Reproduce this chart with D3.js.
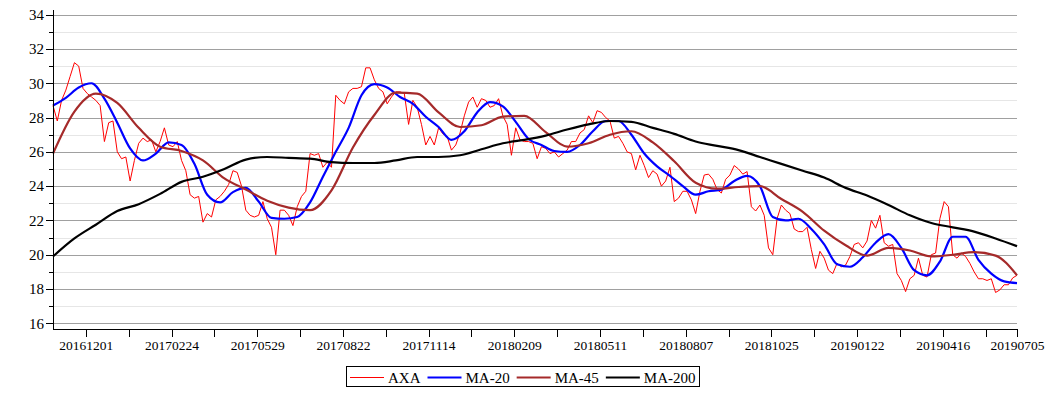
<!DOCTYPE html>
<html>
<head>
<meta charset="utf-8">
<script src="https://cdn.jsdelivr.net/npm/d3@7"></script>
<style>
    body { margin: 0; background: #fff; }
    text { font-family: "Liberation Serif", "Times New Roman", serif; fill: #000; }
</style>
</head>
<body>
<div id="graph"></div>
<script>
window.onload = start;

// AXA close, one value every 3 trading days
var axaStep = 3;
var axa = [28.7, 27.8, 29.0, 29.6, 30.4, 31.2, 31.0, 29.7, 29.4, 29.2,
    29.0, 28.7, 26.6, 27.7, 27.8, 26.0, 25.6, 25.7, 24.3, 25.5,
    26.5, 26.8, 26.6, 26.7, 26.0, 26.6, 27.4, 26.4, 26.3, 26.6,
    25.5, 24.9, 23.5, 23.3, 23.4, 21.9, 22.4, 22.2, 23.2, 23.4,
    23.7, 24.1, 24.9, 24.8, 24.0, 22.6, 22.3, 22.2, 22.3, 23.1,
    22.1, 21.6, 20.0, 22.6, 22.6, 22.3, 21.7, 22.8, 23.4, 23.7,
    25.9, 25.8, 25.9, 25.1, 25.4, 25.1, 29.3, 29.0, 28.8, 29.5,
    29.7, 29.7, 29.8, 30.9, 30.9, 30.2, 29.7, 29.5, 28.8, 29.2,
    29.5, 29.5, 29.4, 27.6, 29.0, 28.6, 27.6, 26.4, 26.9, 26.4,
    27.4, 27.05, 26.9, 26.1, 26.4, 27.1, 28.1, 28.9, 29.2, 28.6,
    29.1, 29.0, 28.6, 28.7, 29.1, 28.1, 27.6, 25.8, 27.4, 26.7,
    26.6, 26.6, 26.5, 25.6, 26.3, 26.2, 25.9, 26.0, 25.7, 25.9,
    26.1, 26.6, 26.6, 27.1, 27.3, 28.1, 27.7, 28.4, 28.3, 28.0,
    27.8, 26.8, 26.9, 26.5, 26.0, 25.9, 24.95, 25.8, 25.2, 24.5,
    24.9, 24.7, 24.0, 24.3, 25.1, 23.1, 23.3, 23.7, 23.7, 23.2,
    22.4, 23.7, 24.65, 24.7, 24.4, 23.8, 23.6, 24.4, 24.65, 25.2,
    25.0, 24.7, 24.85, 22.8, 22.55, 22.9, 22.3, 20.4, 20.0, 22.1,
    22.9, 22.6, 22.4, 21.5, 21.35, 21.35, 21.6, 20.3, 19.2, 20.2,
    19.8, 19.1, 18.9, 19.5, 19.3, 19.4, 19.9, 20.6, 20.7, 20.4,
    20.8, 22.0, 21.55, 22.3, 20.7, 20.5, 20.6, 18.9, 18.5, 17.85,
    18.6, 18.8, 19.8, 18.8, 18.7, 20.0, 20.1, 22.1, 23.1, 22.8,
    20.0, 19.8, 20.1, 19.9, 19.5, 19.0, 18.6, 18.6, 18.5, 18.6,
    17.8, 17.95, 18.25, 18.25, 18.65, 18.8];

// MA-20, one value every 9 trading days
var ma20Step = 9;
var ma20 = [28.7, 29.15, 29.75, 30.0, 29.1, 27.7, 26.2, 25.5, 25.9, 26.55,
    26.4, 25.3, 23.5, 23.05, 23.65, 23.9, 23.1, 22.15, 22.1, 22.2,
    23.05, 24.55, 26.0, 27.4, 29.3, 29.95, 29.75, 29.2, 28.8, 28.05,
    27.45, 26.7, 27.2, 28.3, 28.9, 28.65, 27.75, 26.75, 26.4, 26.05,
    26.0, 26.4, 27.2, 27.8, 27.8, 27.0, 25.9, 25.15, 24.6, 24.0,
    23.5, 23.7, 23.8, 24.3, 24.6, 24.0, 22.2, 22.0, 22.1, 21.5,
    20.6, 19.45, 19.3, 19.85, 20.7, 21.2, 20.4, 19.1, 18.8, 19.6,
    21.05, 21.05, 19.7, 18.9, 18.45, 18.35];

// MA-45 and MA-200, one value every 15 trading days
var maStep = 15;
var ma45 = [25.9, 28.35, 29.4, 28.85, 27.4, 26.3, 26.05, 25.5, 24.45, 23.8,
    23.15, 22.75, 22.6, 23.75, 26.25, 28.15, 29.45, 29.4, 28.3,
    27.45, 27.55, 28.05, 28.1, 27.15, 26.3, 26.5, 27.0, 27.2,
    26.55, 25.45, 24.2, 23.85, 23.95, 24.0, 23.25, 22.5, 21.4,
    20.55, 19.95, 20.4, 20.25, 19.9, 20.0, 20.15, 19.95, 18.8];
var ma200 = [19.9, 20.95, 21.75, 22.55, 22.95, 23.55, 24.25, 24.55, 25.0, 25.55,
    25.7, 25.65, 25.6, 25.4, 25.35, 25.35, 25.5, 25.7, 25.7, 25.8,
    26.15, 26.5, 26.7, 26.95, 27.3, 27.6, 27.8, 27.75, 27.4, 27.05,
    26.6, 26.35, 26.1, 25.7, 25.3, 24.9, 24.5, 23.9, 23.45, 22.9,
    22.3, 21.85, 21.6, 21.35, 20.95, 20.5];

var dayCount = 676;
var tickDays = [23, 83, 143, 203, 263, 323, 383, 443, 503, 563, 623, 675];
var tickLabels = ["20161201", "20170224", "20170529", "20170822", "20171114", "20180209",
    "20180511", "20180807", "20181025", "20190122", "20190416", "20190705"];
var minorDays = [53, 113, 173, 233, 293, 353, 413, 473, 533, 593, 653];
var yMajor = [16, 18, 20, 22, 24, 26, 28, 30, 32, 34];
var yMinor = [17, 19, 21, 23, 25, 27, 29, 31, 33];
var seriesNames = ["AXA", "MA-20", "MA-45", "MA-200"];
var seriesColors = ["#ff0000", "#0000ff", "#a52a2a", "#000000"];

var svg;
var xScale;
var yScale;
var margin;
var width;
var height;

function start() {
    width = 1048;
    height = 400;
    margin = {top: 9, right: 31, bottom: 71, left: 53};

    svg = d3.select("#graph")
        .append("svg")
        .attr("width", width)
        .attr("height", height);

    xScale = d3.scaleLinear().domain([0, dayCount - 1]).range([margin.left, width - margin.right]);
    yScale = d3.scaleLinear().domain([15.67, 34.33]).range([height - margin.bottom, margin.top]);

    // grid
    svg.append("g").selectAll("line")
        .data(yMinor)
        .enter().append("line")
        .attr("x1", margin.left).attr("x2", width - margin.right)
        .attr("y1", function(d) { return Math.round(yScale(d)) + 0.5; })
        .attr("y2", function(d) { return Math.round(yScale(d)) + 0.5; })
        .attr("stroke", "#e6e6e6");
    svg.append("g").selectAll("line")
        .data(yMajor)
        .enter().append("line")
        .attr("x1", margin.left).attr("x2", width - margin.right)
        .attr("y1", function(d) { return Math.round(yScale(d)) + 0.5; })
        .attr("y2", function(d) { return Math.round(yScale(d)) + 0.5; })
        .attr("stroke", "#a0a0a0");

    drawLine(axa, axaStep, seriesColors[0], 1, d3.curveLinear);
    drawLine(ma20, ma20Step, seriesColors[1], 2.2, d3.curveMonotoneX);
    drawLine(ma45, maStep, seriesColors[2], 2.2, d3.curveMonotoneX);
    drawLine(ma200, maStep, seriesColors[3], 2.2, d3.curveMonotoneX);

    // axes
    var yAxis = d3.axisLeft(yScale).tickValues(yMajor).tickSize(7).tickPadding(2).tickSizeOuter(0);
    var yMinorAxis = d3.axisLeft(yScale).tickValues(yMinor).tickSize(4).tickFormat("").tickSizeOuter(0);
    var yContainer = svg.append("g")
        .attr("transform", "translate(" + margin.left + ",0)")
        .call(yAxis);
    svg.append("g")
        .attr("transform", "translate(" + margin.left + ",0)")
        .call(yMinorAxis);
    yContainer.selectAll("text").style("font-size", "15px");

    var xAxis = d3.axisBottom(xScale).tickValues(tickDays).tickSize(8).tickPadding(3).tickSizeOuter(0)
        .tickFormat(function(d, i) { return tickLabels[i]; });
    var xMinorAxis = d3.axisBottom(xScale).tickValues(minorDays).tickSize(8).tickFormat("").tickSizeOuter(0);
    var xContainer = svg.append("g")
        .attr("transform", "translate(0," + (height - margin.bottom) + ")")
        .call(xAxis);
    svg.append("g")
        .attr("transform", "translate(0," + (height - margin.bottom) + ")")
        .call(xMinorAxis);
    xContainer.selectAll("text").style("font-size", "13.5px");

    svg.selectAll(".domain, .tick line").attr("stroke", "#000").attr("shape-rendering", "crispEdges");
    svg.selectAll(".tick text").attr("fill", "#000")
        .style("font-family", '"Liberation Serif", "Times New Roman", serif');

    drawLegend();
}

function drawLine(values, step, color, strokeWidth, curve) {
    var line = d3.line()
        .x(function(d, i) { return xScale(i * step); })
        .y(function(d) { return yScale(d); })
        .curve(curve);
    svg.append("path")
        .datum(values)
        .attr("fill", "none")
        .attr("stroke", color)
        .attr("stroke-width", strokeWidth)
        .attr("d", line);
}

function drawLegend() {
    var legend = svg.append("g");
    var box = legend.append("rect")
        .attr("fill", "#fff")
        .attr("stroke", "#000")
        .attr("shape-rendering", "crispEdges");
    var x = 350;
    var lineY = 377.5;
    for (var i = 0; i < seriesNames.length; i++) {
        legend.append("line")
            .attr("x1", x).attr("x2", x + 34)
            .attr("y1", lineY).attr("y2", lineY)
            .attr("stroke", seriesColors[i])
            .attr("stroke-width", i == 0 ? 1 : 2.2);
        var t = legend.append("text")
            .attr("x", x + 38)
            .attr("y", 383)
            .style("font-size", "15px")
            .text(seriesNames[i]);
        x = x + 38 + t.node().getComputedTextLength() + 7;
    }
    box.attr("x", 346.5).attr("y", 366.5).attr("width", x - 3 - 346.5).attr("height", 20);
}
</script>
</body>
</html>
